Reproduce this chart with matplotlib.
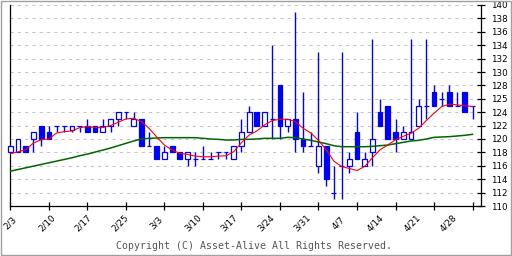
import matplotlib.pyplot as plt
from matplotlib.patches import Rectangle

# 日足データ (2/3 - 4/28)
opens = [118, 118, 119, 120, 122, 121, 122, 122, 121.3, 122,
         122, 122, 121, 122, 123, 124, 122, 123, 119, 119,
         117, 119, 118, 117, 117, 117, 117, 118, 118, 117,
         119, 121, 124, 122, 123, 128, 122, 123, 120, 119,
         116, 119, 112, 116, 116, 121, 116, 118, 124, 125,
         121, 120, 120, 122, 125, 127, 126, 127, 125, 127, 125]
highs = [119, 120, 119, 121, 122, 122, 122, 122, 122, 122,
         123, 122, 123, 123, 124, 124, 124, 123, 121, 119,
         119, 119, 118, 118, 118, 119, 118, 118, 118, 119,
         123, 125, 124, 124, 134, 128, 123, 139, 127, 121,
         133, 119, 116, 133, 118, 124, 118, 135, 126, 125,
         123, 122, 135, 126, 135, 128, 127, 128, 127, 127, 125]
lows = [118, 118, 118, 118, 119, 120, 121, 121, 121, 121,
        121, 121, 121, 121, 122, 123, 122, 119, 119, 117,
        117, 118, 117, 116, 116, 117, 117, 117, 117, 117,
        118, 121, 122, 122, 120, 120, 121, 118, 118, 119,
        115, 113, 111, 111, 115, 117, 116, 116, 122, 120,
        118, 120, 120, 122, 123, 125, 125, 125, 125, 124, 123]
closes = [119, 120, 118, 121, 120, 120, 122, 122, 122, 122,
          121, 121, 122, 123, 124, 124, 123, 119, 119, 117,
          118, 118, 117, 118, 117, 117, 117, 118, 118, 119,
          121, 124, 122, 124, 123, 122, 123, 120, 119, 119,
          119, 114, 112, 116, 117, 117, 117, 120, 122, 120,
          120, 121, 121, 125, 125, 125, 126, 125, 125, 124, 125]

# 移動平均線
ma_short = [117.8, 118.1, 118.4, 119.4, 119.9, 120.0, 120.9, 121.1, 121.2, 121.7,
            121.85, 121.7, 121.7, 122.0, 122.5, 123.0, 123.1, 122.6, 121.6, 120.3,
            119.1, 118.35, 117.85, 117.7, 117.45, 117.35, 117.35, 117.45, 117.5, 118.1,
            119.45, 120.6, 121.2, 122.1, 122.75, 122.95, 122.95, 122.6, 121.6, 120.9,
            119.8, 118.4, 116.7, 115.9, 115.6, 115.3, 115.9, 117.2, 118.4, 119.1,
            119.9, 120.4, 120.85, 121.6, 122.75, 123.85, 124.85, 125.2, 125.1, 124.95, 124.85]
ma_long = [115.2, 115.45, 115.7, 115.95, 116.2, 116.45, 116.7, 116.95, 117.2, 117.5,
           117.75, 118.05, 118.35, 118.65, 119.0, 119.35, 119.7, 120.0, 120.1, 120.15,
           120.2, 120.2, 120.2, 120.2, 120.2, 120.1, 120.0, 119.95, 119.85, 119.85,
           119.95, 119.95, 120.0, 120.1, 120.1, 120.1, 120.25, 120.2, 120.0, 119.8,
           119.55, 119.3, 119.0, 118.85, 118.85, 118.85, 118.85, 118.9, 119.0, 119.1,
           119.3, 119.5, 119.7, 119.8, 120.0, 120.25, 120.3, 120.35, 120.45, 120.55, 120.7]

tick_idx = [0, 5, 10, 15, 20, 25, 30, 35, 40, 45, 50, 55, 60]
tick_labels = ['2/3', '2/10', '2/17', '2/25', '3/3', '3/10', '3/17',
               '3/24', '3/31', '4/7', '4/14', '4/21', '4/28']
y_ticks = list(range(110, 141, 2))
y_labels = ['110', '112', '114', '116', '118', '120', '122', '124',
            '125', '128', '130', '132', '134', '136', '138', '140']

fig = plt.figure(figsize=(5.12, 2.56), dpi=100)
ax = fig.add_axes([10 / 512, 50 / 256, 471 / 512, 201 / 256])

blue = '#0000ff'
x = list(range(len(opens)))

# ヒゲ
ax.vlines(x, lows, highs, color=blue, linewidth=1.0, zorder=3, clip_on=False)

# 実体 (陽線=白抜き, 陰線=塗りつぶし)
bottoms = [min(o, c) for o, c in zip(opens, closes)]
heights = [abs(c - o) for o, c in zip(opens, closes)]
fills = ['white' if c >= o else blue for o, c in zip(opens, closes)]
ax.bar(x, heights, bottom=bottoms, width=0.62, color=fills, edgecolor=blue,
       linewidth=0.9, zorder=4, clip_on=False)

# 移動平均線
ax.plot(x, ma_long, color='#006600', linewidth=1.1, zorder=5)
ax.plot(x, ma_short, color='#ff0000', linewidth=0.8, zorder=6)

ax.set_xlim(-0.05, 61.1)
ax.set_ylim(110, 140)

# 横方向の点線グリッド
for v in y_ticks[1:]:
    ax.axhline(v, color='#c4c4c4', linewidth=0.75, linestyle=(0, (3, 4)), zorder=1)

ax.spines['top'].set_visible(False)
for s in ['left', 'bottom', 'right']:
    ax.spines[s].set_linewidth(0.9)
    ax.spines[s].set_color('black')

ax.yaxis.tick_right()
ax.set_yticks(y_ticks)
ax.set_yticklabels(y_labels, fontsize=6.3)
ax.tick_params(axis='y', direction='inout', length=5.8, width=0.9, pad=4)

ax.set_xticks(tick_idx)
ax.set_xticklabels([])
ax.tick_params(axis='x', direction='inout', length=5.8, width=0.9)

# 日付ラベル (少し左にずれて配置されている)
for i, lab in zip(tick_idx, tick_labels):
    ax.text(i * 0.948, -0.085, lab, transform=ax.get_xaxis_transform(),
            rotation=45, ha='center', va='center', fontsize=6.3)

fig.text(0.497, 0.039, 'Copyright (C) Asset-Alive All Rights Reserved.',
         family='DejaVu Sans Mono', fontsize=7.1, color='#555555',
         ha='center', va='center')

# 外枠
fig.patches.append(Rectangle((0.001, 0.002), 0.997, 0.996, transform=fig.transFigure,
                             fill=False, edgecolor='#a0a0a0', linewidth=1.0))

fig.savefig('out.png', dpi=100, facecolor='white')
